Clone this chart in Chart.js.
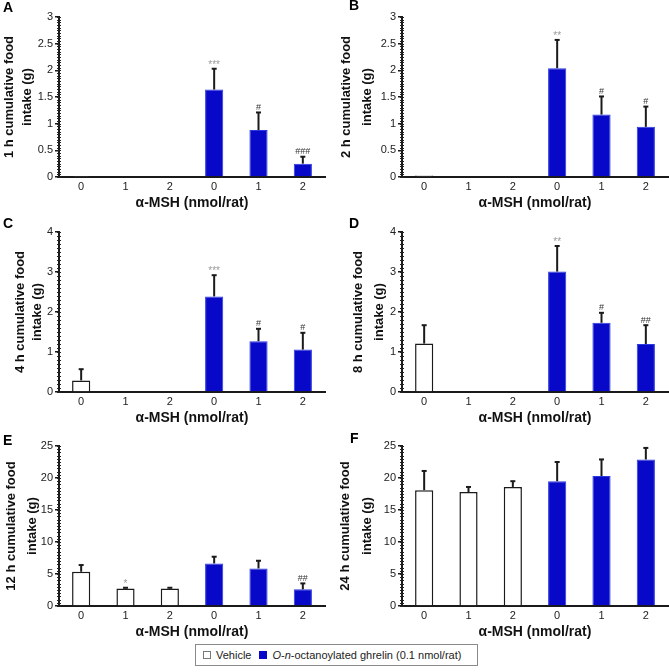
<!DOCTYPE html>
<html><head><meta charset="utf-8">
<script src="https://cdn.jsdelivr.net/npm/chart.js@4"></script>
<style>
html,body{margin:0;padding:0;background:#fff;}
#wrap{position:relative;width:669px;height:672px;overflow:hidden;font-family:'Liberation Sans',Arial,sans-serif;}
canvas{position:absolute;}
#legend{position:absolute;left:195px;top:644px;width:281px;height:20px;border:1px solid #8a8a8a;background:#fff;z-index:5;
  display:flex;align-items:center;font-size:11px;color:#222;white-space:nowrap;}
.sw{display:inline-block;width:8px;height:8px;box-sizing:border-box;margin-right:5px;}
</style></head><body>
<div id="wrap">
<canvas id="cA" width="334" height="225"></canvas>
<canvas id="cB" width="335" height="225"></canvas>
<canvas id="cC" width="334" height="225"></canvas>
<canvas id="cD" width="335" height="225"></canvas>
<canvas id="cE" width="334" height="225"></canvas>
<canvas id="cF" width="335" height="225"></canvas>
<div id="legend">
  <span class="sw" style="margin-left:7px;border:1px solid #777;background:#fff"></span><span>Vehicle</span>
  <span class="sw" style="margin-left:8px;background:#0808c8"></span><span><i>O</i>-<i>n</i>-octanoylated ghrelin (0.1 nmol/rat)</span>
</div>
</div>
<script>
// ---- data ----
const doses = ['0', '1', '2', '0', '1', '2'];
const xTitle = 'α-MSH (nmol/rat)';

const vehicle1h = [0.02, 0, 0];
const vehicle1hErr = [0.01, 0, 0];
const ghrelin1h = [1.64, 0.88, 0.25];
const ghrelin1hErr = [0.39, 0.33, 0.13];
const marks1h = ['', '', '', '***', '#', '###'];

const vehicle2h = [0.03, 0, 0];
const vehicle2hErr = [0.01, 0, 0];
const ghrelin2h = [2.04, 1.17, 0.94];
const ghrelin2hErr = [0.53, 0.34, 0.38];
const marks2h = ['', '', '', '**', '#', '#'];

const vehicle4h = [0.29, 0, 0];
const vehicle4hErr = [0.28, 0, 0];
const ghrelin4h = [2.39, 1.27, 1.06];
const ghrelin4hErr = [0.53, 0.31, 0.42];
const marks4h = ['', '', '', '***', '#', '#'];

const vehicle8h = [1.21, 0, 0];
const vehicle8hErr = [0.46, 0, 0];
const ghrelin8h = [3.01, 1.73, 1.2];
const ghrelin8hErr = [0.64, 0.25, 0.47];
const marks8h = ['', '', '', '**', '#', '##'];

const vehicle12h = [5.35, 2.75, 2.75];
const vehicle12hErr = [1.05, 0.1, 0.1];
const ghrelin12h = [6.65, 5.87, 2.6];
const ghrelin12hErr = [1.05, 1.2, 0.93];
const marks12h = ['', '*', '', '', '', '##'];

const vehicle24h = [18.1, 17.8, 18.6];
const vehicle24hErr = [3.0, 0.8, 0.9];
const ghrelin24h = [19.5, 20.3, 22.9];
const ghrelin24hErr = [3.0, 2.6, 1.8];
const marks24h = ['', '', '', '', '', ''];

const yTicks1h = [0, 3, 0.5];
const yTicks4h = [0, 4, 1];
const yTicks12h = [0, 25, 5];

// ---- plugins ----
const errPlugin = {
  id: 'errbars',
  afterDatasetsDraw(chart) {
    const ctx = chart.ctx, ys = chart.scales.y;
    chart.data.datasets.forEach((ds, i) => {
      const meta = chart.getDatasetMeta(i);
      meta.data.forEach((el, j) => {
        const v = ds.data[j];
        if (v == null) return;
        const e = ds.errors[j] || 0;
        const top = ys.getPixelForValue(v + e);
        ctx.save();
        if (e > 0.015) {
          ctx.strokeStyle = '#1a1a1a'; ctx.lineWidth = 2;
          ctx.beginPath(); ctx.moveTo(el.x, ys.getPixelForValue(v)); ctx.lineTo(el.x, top); ctx.stroke();
          ctx.beginPath(); ctx.moveTo(el.x - 2.5, top); ctx.lineTo(el.x + 2.5, top); ctx.stroke();
        }
        const m = ds.marks[j];
        if (m) {
          const star = m.indexOf('*') >= 0;
          ctx.fillStyle = star ? '#9a9a9a' : '#333';
          ctx.font = (star ? '10px' : '9px') + " 'Liberation Sans', Arial, sans-serif";
          ctx.textAlign = 'center'; ctx.textBaseline = 'alphabetic';
          ctx.fillText(m, el.x, top - (star ? 1 : 2.5));
        }
        ctx.restore();
      });
    });
  }
};
const minorPlugin = {
  id: 'minor',
  afterDraw(chart) {
    const ys = chart.scales.y, ctx = chart.ctx, x = ys.right;
    const step = chart.options.plugins.minor.step;
    const n = Math.round((ys.max - ys.min) / step);
    ctx.save(); ctx.strokeStyle = '#222'; ctx.lineWidth = 1;
    for (let k = 0; k <= n; k++) {
      const y = Math.round(ys.getPixelForValue(ys.min + k * step)) + 0.5;
      ctx.beginPath(); ctx.moveTo(x - 2, y); ctx.lineTo(x + 2, y); ctx.stroke();
    }
    ctx.restore();
  }
};
const letterPlugin = {
  id: 'letter',
  afterDraw(chart) {
    const o = chart.options.plugins.letter, ctx = chart.ctx;
    ctx.save();
    ctx.fillStyle = '#000';
    ctx.font = "bold 14px 'Liberation Sans', Arial, sans-serif";
    ctx.textAlign = 'left'; ctx.textBaseline = 'alphabetic';
    ctx.fillText(o.text, o.x, o.y);
    ctx.restore();
  }
};

Chart.defaults.font.family = "'Liberation Sans', Arial, sans-serif";

const panels = [
  {id: 'A', x: 0,   y: 0,   L: 59, T: 17, B: 177, R: 325, yt: yTicks1h, label: '1 h',
   veh: vehicle1h, vehE: vehicle1hErr, ghr: ghrelin1h, ghrE: ghrelin1hErr, marks: marks1h,
   tPad: 1, tLH: 17.5, lx: 3, ly: 12},
  {id: 'B', x: 334, y: 0,   L: 68, T: 17, B: 177, R: 334, yt: yTicks1h, label: '2 h',
   veh: vehicle2h, vehE: vehicle2hErr, ghr: ghrelin2h, ghrE: ghrelin2hErr, marks: marks2h,
   tPad: 2, tLH: 21, lx: 15, ly: 10},
  {id: 'C', x: 0,   y: 210, L: 59, T: 22, B: 182, R: 325, yt: yTicks4h, label: '4 h',
   veh: vehicle4h, vehE: vehicle4hErr, ghr: ghrelin4h, ghrE: ghrelin4hErr, marks: marks4h,
   tPad: 12, tLH: 17, lx: 3, ly: 18},
  {id: 'D', x: 334, y: 210, L: 68, T: 22, B: 182, R: 334, yt: yTicks4h, label: '8 h',
   veh: vehicle8h, vehE: vehicle8hErr, ghr: ghrelin8h, ghrE: ghrelin8hErr, marks: marks8h,
   tPad: 14, tLH: 21, lx: 15, ly: 18},
  {id: 'E', x: 0,   y: 420, L: 59, T: 26, B: 186, R: 325, yt: yTicks12h, label: '12 h',
   veh: vehicle12h, vehE: vehicle12hErr, ghr: ghrelin12h, ghrE: ghrelin12hErr, marks: marks12h,
   tPad: 1, tLH: 21, lx: 3, ly: 25},
  {id: 'F', x: 334, y: 420, L: 68, T: 26, B: 186, R: 334, yt: yTicks12h, label: '24 h',
   veh: vehicle24h, vehE: vehicle24hErr, ghr: ghrelin24h, ghrE: ghrelin24hErr, marks: marks24h,
   tPad: 0, tLH: 22, lx: 16, ly: 23}
];

const BLUE = '#0808c8';
panels.forEach(p => {
  const cv = document.getElementById('c' + p.id);
  cv.style.left = p.x + 'px'; cv.style.top = p.y + 'px';
  const W = cv.width, H = cv.height;
  const xLH = 14 * 1.2;
  const xH = 26 + xLH / 2;
  const [ymin, ymax, ystep] = p.yt;
  new Chart(cv, {
    type: 'bar',
    data: {
      labels: doses,
      datasets: [
        {label: 'Vehicle', data: [...p.veh, null, null, null], errors: [...p.vehE, 0, 0, 0],
         marks: [p.marks[0], p.marks[1], p.marks[2], '', '', ''],
         backgroundColor: '#fff', borderColor: '#1a1a1a', borderWidth: 1.5, grouped: false,
         barPercentage: 0.41, categoryPercentage: 1},
        {label: 'O-n-octanoylated ghrelin (0.1 nmol/rat)', data: [null, null, null, ...p.ghr], errors: [0, 0, 0, ...p.ghrE],
         marks: ['', '', '', p.marks[3], p.marks[4], p.marks[5]],
         backgroundColor: BLUE, borderColor: '#2a3ae0', borderWidth: 1, grouped: false,
         barPercentage: 0.41, categoryPercentage: 1}
      ]
    },
    options: {
      responsive: false, animation: false, devicePixelRatio: 1,
      layout: {padding: {left: 0, top: p.T, right: W - p.R, bottom: H - p.B - xH}},
      plugins: {
        legend: {display: false}, tooltip: {enabled: false},
        minor: {step: ystep / 10},
        letter: {text: p.id, x: p.lx, y: p.ly}
      },
      scales: {
        x: {
          grid: {display: false, drawTicks: false},
          border: {display: true, color: '#1a1a1a', width: 2},
          ticks: {color: '#222', font: {size: 11}, padding: 3, autoSkip: false, maxRotation: 0},
          title: {display: true, text: xTitle, color: '#111', font: {size: 14, weight: 'bold'}, padding: {top: 0, bottom: 0}},
          afterFit: s => { s.height = xH; }
        },
        y: {
          min: ymin, max: ymax,
          grid: {display: true, drawOnChartArea: false, drawTicks: true, tickLength: 4, color: '#1a1a1a', lineWidth: 1.5},
          border: {display: true, color: '#1a1a1a', width: 2},
          ticks: {stepSize: ystep, color: '#222', font: {size: 11}, padding: 2, callback: v => String(v)},
          title: {display: true, text: [p.label + ' cumulative food', 'intake (g)'], color: '#111',
                  font: {size: 13, weight: 'bold', lineHeight: p.tLH + 'px'}, padding: {top: p.tPad, bottom: 0}},
          afterFit: s => { s.width = p.L; }
        }
      }
    },
    plugins: [errPlugin, minorPlugin, letterPlugin]
  });
});
</script>
</body></html>
